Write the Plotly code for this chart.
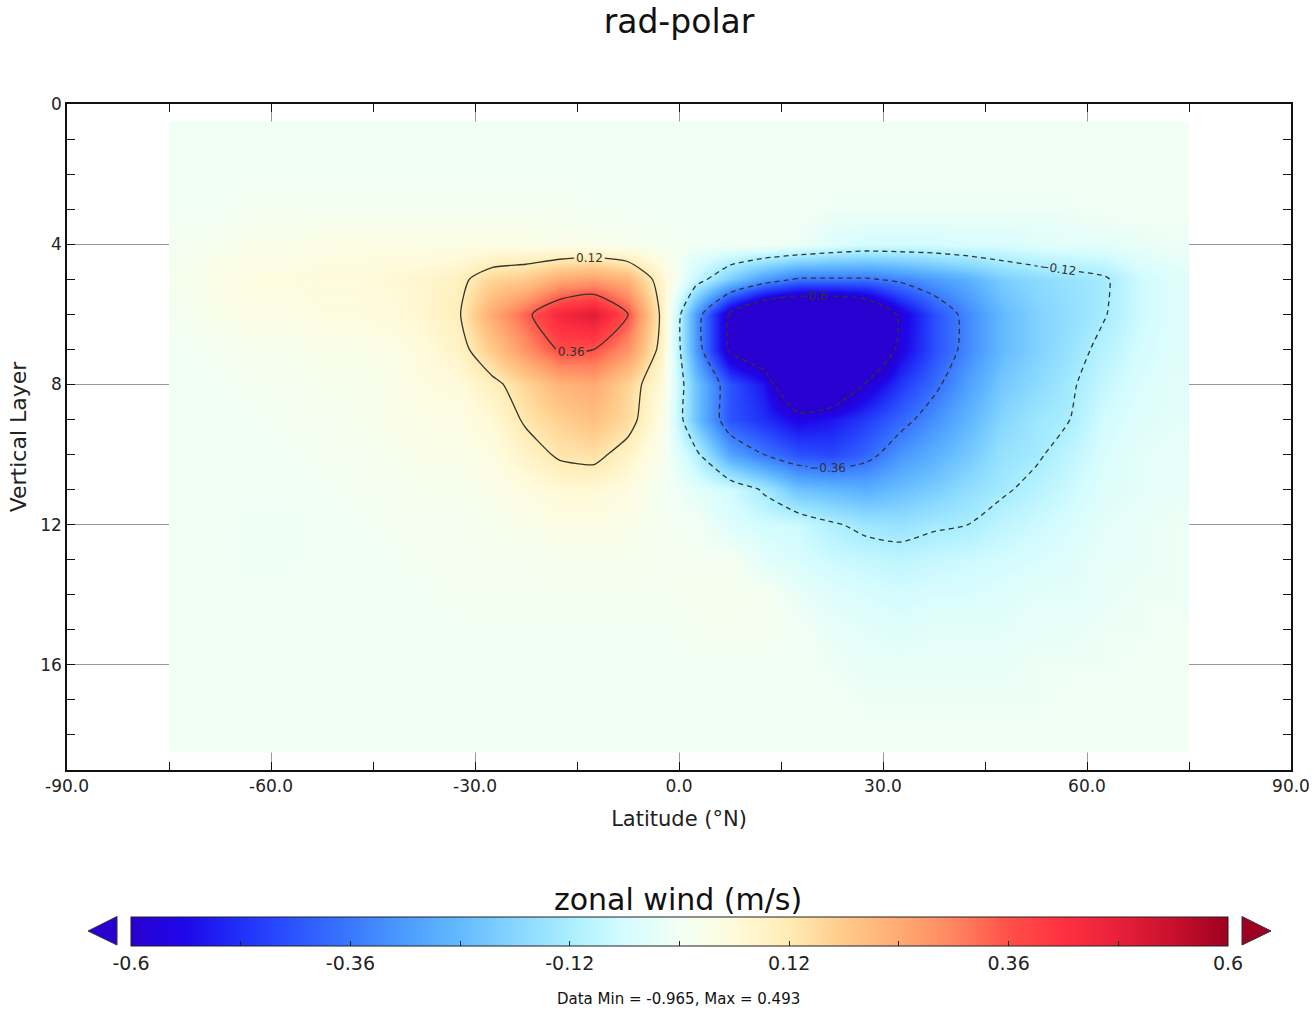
import plotly.graph_objects as go

# ---------------- data ----------------
latitude = [-72.5, -67.5, -62.5, -57.5, -52.5, -47.5, -42.5, -37.5, -32.5, -27.5,
            -22.5, -17.5, -12.5, -7.5, -2.5, 2.5, 7.5, 12.5, 17.5, 22.5,
            27.5, 32.5, 37.5, 42.5, 47.5, 52.5, 57.5, 62.5, 67.5, 72.5]
layer = [1, 2, 3, 4, 5, 6, 7, 8, 9, 10, 11, 12, 13, 14, 15, 16, 17, 18]

zonal_wind = [
    # layer 1
    [0.0]*30,
    # layer 2
    [0.0]*30,
    # layer 3
    [0.0, 0.0, 0.01, 0.01, 0.01, 0.01, 0.01, 0.01, 0.01, 0.01, 0.01, 0.01, 0.0, 0.0, 0.0,
     0.0, 0.0, 0.0, 0.0, -0.01, -0.01, -0.01, -0.01, -0.01, -0.01, -0.01, -0.01, 0.0, 0.0, 0.0],
    # layer 4
    [0.01, 0.02, 0.03, 0.03, 0.04, 0.04, 0.04, 0.04, 0.04, 0.04, 0.04, 0.03, 0.03, 0.02, 0.01,
     0.0, 0.0, 0.0, -0.01, -0.04, -0.06, -0.06, -0.06, -0.05, -0.05, -0.04, -0.03, -0.03, -0.02, -0.01],
    # layer 5
    [0.02, 0.04, 0.05, 0.05, 0.06, 0.06, 0.07, 0.08, 0.10, 0.16, 0.18, 0.24, 0.26, 0.22, 0.08,
     -0.08, -0.20, -0.30, -0.37, -0.37, -0.37, -0.34, -0.30, -0.26, -0.20, -0.17, -0.15, -0.13, -0.07, -0.04],
    # layer 6
    [0.01, 0.03, 0.04, 0.04, 0.05, 0.05, 0.06, 0.08, 0.11, 0.24, 0.34, 0.45, 0.493, 0.36, 0.10,
     -0.30, -0.62, -0.80, -0.85, -0.85, -0.78, -0.58, -0.43, -0.33, -0.24, -0.19, -0.16, -0.125, -0.07, -0.04],
    # layer 7
    [0.0, 0.01, 0.02, 0.02, 0.03, 0.03, 0.04, 0.06, 0.09, 0.18, 0.28, 0.37, 0.36, 0.28, 0.09,
     -0.30, -0.62, -0.72, -0.965, -0.95, -0.85, -0.56, -0.43, -0.33, -0.24, -0.19, -0.15, -0.10, -0.06, -0.04],
    # layer 8
    [0.0, 0.0, 0.01, 0.01, 0.02, 0.02, 0.03, 0.05, 0.06, 0.10, 0.16, 0.22, 0.24, 0.16, 0.06,
     -0.22, -0.42, -0.52, -0.80, -0.75, -0.59, -0.47, -0.38, -0.29, -0.21, -0.17, -0.13, -0.08, -0.05, -0.03],
    # layer 9
    [0.0, 0.0, 0.0, 0.01, 0.01, 0.02, 0.03, 0.04, 0.04, 0.07, 0.13, 0.17, 0.20, 0.15, 0.04,
     -0.22, -0.42, -0.48, -0.55, -0.52, -0.46, -0.39, -0.32, -0.25, -0.18, -0.14, -0.12, -0.06, -0.04, -0.03],
    # layer 10
    [0.0, 0.0, 0.0, 0.0, 0.01, 0.01, 0.02, 0.03, 0.03, 0.05, 0.09, 0.13, 0.14, 0.09, 0.02,
     -0.10, -0.28, -0.36, -0.42, -0.44, -0.39, -0.31, -0.26, -0.21, -0.15, -0.13, -0.09, -0.05, -0.03, -0.02],
    # layer 11
    [0.0, 0.0, 0.0, 0.0, 0.0, 0.01, 0.01, 0.02, 0.02, 0.03, 0.05, 0.07, 0.07, 0.05, 0.01,
     -0.03, -0.06, -0.13, -0.22, -0.24, -0.26, -0.23, -0.20, -0.16, -0.13, -0.10, -0.07, -0.04, -0.03, -0.02],
    # layer 12
    [0.0, 0.0, -0.01, -0.01, 0.0, 0.0, 0.01, 0.01, 0.01, 0.02, 0.03, 0.04, 0.04, 0.03, 0.01,
     0.0, -0.04, -0.06, -0.07, -0.11, -0.14, -0.15, -0.13, -0.12, -0.09, -0.07, -0.05, -0.03, -0.02, -0.01],
    # layer 13
    [0.0, 0.0, -0.01, -0.01, 0.0, 0.0, 0.0, 0.01, 0.01, 0.01, 0.01, 0.02, 0.02, 0.02, 0.01,
     0.01, 0.01, -0.03, -0.05, -0.07, -0.08, -0.09, -0.08, -0.07, -0.06, -0.05, -0.04, -0.02, -0.02, -0.01],
    # layer 14
    [0.0, 0.0, 0.0, 0.0, 0.0, 0.0, 0.0, 0.0, 0.01, 0.01, 0.01, 0.01, 0.01, 0.01, 0.01,
     0.015, 0.015, 0.01, -0.02, -0.04, -0.05, -0.06, -0.05, -0.05, -0.04, -0.03, -0.03, -0.02, -0.01, -0.01],
    # layer 15
    [0.0, 0.0, 0.0, 0.0, 0.0, 0.0, 0.0, 0.0, 0.0, 0.0, 0.0, 0.0, 0.0, 0.0, 0.0,
     0.01, 0.01, 0.01, 0.0, -0.02, -0.03, -0.04, -0.03, -0.03, -0.03, -0.02, -0.02, -0.01, -0.01, 0.0],
    # layer 16
    [0.0, 0.0, 0.0, 0.0, 0.0, 0.0, 0.0, 0.0, 0.0, 0.0, 0.0, 0.0, 0.0, 0.0, 0.0,
     0.0, 0.0, 0.0, 0.0, -0.01, -0.02, -0.02, -0.02, -0.02, -0.02, -0.01, -0.01, -0.01, 0.0, 0.0],
    # layer 17
    [0.0, 0.0, 0.0, 0.0, 0.0, 0.0, 0.0, 0.0, 0.0, 0.0, 0.0, 0.0, 0.0, 0.0, 0.0,
     0.0, 0.0, 0.0, 0.0, 0.0, -0.01, -0.01, -0.01, -0.01, -0.01, -0.01, 0.0, 0.0, 0.0, 0.0],
    # layer 18
    [0.0]*30,
]

x_ticks = [-90, -60, -30, 0, 30, 60, 90]
x_minor_ticks = [-75, -45, -15, 15, 45, 75]
y_ticks = [0, 4, 8, 12, 16]
cbar_ticks = [-0.6, -0.48, -0.36, -0.24, -0.12, 0.0, 0.12, 0.24, 0.36, 0.48, 0.6]
cbar_labels = ["-0.6", "", "-0.36", "", "-0.12", "", "0.12", "", "0.36", "", "0.6"]
neg_levels = [-0.6, -0.36, -0.12]
pos_levels = [0.12, 0.36]
data_min, data_max = -0.965, 0.493

# ---------------- style ----------------
FONT = "DejaVu Sans"
W, H = 1314, 1013
ML, MR, MT, MB = 67, 23, 104, 243
PW, PH = W - ML - MR, H - MT - MB


def px_x(px):
    return (px - ML) / PW


def px_y(py):
    return (H - MB - py) / PH


colorscale = [
    [0.00, "#2800d0"], [0.05, "#1e08ea"], [0.10, "#2030f8"], [0.15, "#2c54ff"],
    [0.20, "#3a78ff"], [0.25, "#4c9cff"], [0.30, "#64baff"], [0.35, "#86d6ff"],
    [0.40, "#aaeeff"], [0.45, "#d4fcff"], [0.50, "#f2fff4"], [0.55, "#fffbdc"],
    [0.60, "#ffecb4"], [0.65, "#ffca8a"], [0.70, "#ffab72"], [0.75, "#ff8660"],
    [0.80, "#ff5048"], [0.85, "#ff3040"], [0.90, "#e8203a"], [0.95, "#c8102c"],
    [1.00, "#9e0022"],
]

fig = go.Figure()

fig.add_trace(go.Heatmap(
    x=latitude, y=layer, z=zonal_wind,
    zsmooth="best", zmin=-0.6, zmax=0.6, colorscale=colorscale,
    hoverinfo="skip",
    colorbar=dict(
        orientation="h", lenmode="pixels", len=1097, thicknessmode="pixels",
        thickness=29, x=px_x(679.5), xanchor="center", y=px_y(916.5), yanchor="top",
        xpad=0, ypad=0, outlinecolor="#222", outlinewidth=1,
        tickvals=cbar_ticks, ticktext=cbar_labels, ticks="inside", ticklen=5,
        tickcolor="#222", tickfont=dict(family=FONT, size=19, color="#222"),
    ),
))

fig.add_trace(go.Contour(
    x=latitude, y=layer, z=zonal_wind, showscale=False, hoverinfo="skip",
    contours=dict(coloring="none", showlabels=True,
                  start=neg_levels[0], end=neg_levels[-1],
                  size=neg_levels[1] - neg_levels[0],
                  labelfont=dict(family=FONT, size=12, color="#333")),
    line=dict(color="#333", width=1.3, dash="5px,4px", smoothing=0.6),
))
fig.add_trace(go.Contour(
    x=latitude, y=layer, z=zonal_wind, showscale=False, hoverinfo="skip",
    contours=dict(coloring="none", showlabels=True,
                  start=pos_levels[0], end=pos_levels[-1],
                  size=pos_levels[1] - pos_levels[0],
                  labelfont=dict(family=FONT, size=12, color="#333")),
    line=dict(color="#333", width=1.3, smoothing=0.6),
))

# over-/under-flow triangles beside the colorbar
tri_l = f"M {px_x(88)} {px_y(931)} L {px_x(117)} {px_y(916.5)} L {px_x(117)} {px_y(945)} Z"
tri_r = f"M {px_x(1271)} {px_y(931)} L {px_x(1242)} {px_y(916.5)} L {px_x(1242)} {px_y(945)} Z"
shapes = [
    dict(type="path", path=tri_l, xref="paper", yref="paper",
         fillcolor=colorscale[0][1], line=dict(color="#333", width=1)),
    dict(type="path", path=tri_r, xref="paper", yref="paper",
         fillcolor=colorscale[-1][1], line=dict(color="#333", width=1)),
]

annotations = [
    dict(text="zonal wind (m/s)", x=px_x(678), y=px_y(899), xref="paper", yref="paper",
         showarrow=False, xanchor="center", yanchor="middle",
         font=dict(family=FONT, size=30, color="#111")),
    dict(text=f"Data Min = {data_min}, Max = {data_max}", x=px_x(678), y=px_y(999),
         xref="paper", yref="paper", showarrow=False, xanchor="center", yanchor="middle",
         font=dict(family=FONT, size=15, color="#111")),
]

axis_common = dict(
    showline=True, linecolor="#111", linewidth=1.5, mirror="ticks",
    ticks="inside", ticklen=8, tickwidth=1.3, tickcolor="#111",
    showgrid=True, gridcolor="#9a9a9a", gridwidth=1, zeroline=False,
    automargin=False,
    tickfont=dict(family=FONT, size=17, color="#222"),
)

fig.update_layout(
    width=W, height=H, autosize=False,
    margin=dict(l=ML, r=MR, t=MT, b=MB),
    paper_bgcolor="white", plot_bgcolor="white",
    title=dict(text="rad-polar", x=0.5, xref="paper", xanchor="center",
               y=1 - 21 / H, yref="container", yanchor="middle",
               font=dict(family=FONT, size=33, color="#111")),
    xaxis=dict(range=[-90, 90], tickvals=x_ticks,
               ticktext=[f"{v:.1f}" for v in x_ticks],
               minor=dict(tickvals=x_minor_ticks, ticks="inside", ticklen=8,
                          tickcolor="#111", showgrid=False),
               title=dict(text="Latitude (°N)", standoff=16,
                          font=dict(family=FONT, size=21, color="#222")),
               **axis_common),
    yaxis=dict(range=[19, 0], tickvals=y_ticks,
               minor=dict(dtick=1, tick0=0, ticks="inside", ticklen=8,
                          tickcolor="#111", showgrid=False),
               title=dict(text="Vertical Layer", standoff=8,
                          font=dict(family=FONT, size=22, color="#222")),
               **axis_common),
    shapes=shapes,
    annotations=annotations,
    showlegend=False,
)

fig.write_html("out.html", config={"displayModeBar": False, "responsive": False},
               post_script="document.body.style.margin='0';document.body.style.overflow='hidden';")
